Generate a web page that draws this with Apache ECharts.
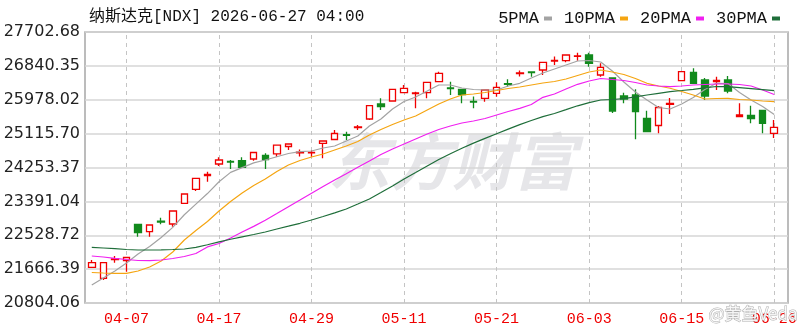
<!DOCTYPE html>
<html><head><meta charset="utf-8">
<script src="https://cdn.jsdelivr.net/npm/echarts@6/dist/echarts.min.js"></script>
<style>html,body{margin:0;padding:0;background:#fff}#c{width:800px;height:332px}</style>
</head><body><div id="c"></div>
<script>
// ---- data ----
var dates = ['04-01','04-02','04-06','04-07','04-08','04-09','04-10','04-13','04-14','04-15',
 '04-16','04-17','04-20','04-21','04-22','04-23','04-24','04-27','04-28','04-29',
 '04-30','05-01','05-04','05-05','05-06','05-07','05-08','05-11','05-12','05-13',
 '05-14','05-15','05-18','05-19','05-20','05-21','05-22','05-26','05-27','05-28',
 '05-29','06-01','06-02','06-03','06-04','06-05','06-08','06-09','06-10','06-11',
 '06-12','06-15','06-16','06-17','06-18','06-22','06-23','06-24','06-25','06-26'];
var labelDates = ['04-07','04-17','04-29','05-11','05-21','06-03','06-15','06-26'];
// [open, close, low, high]
var ohlc = [
 [21713,21830,21713,21899],[21433,21830,21390,21830],[21912,21929,21830,22001],[21886,21962,21601,21962],
 [22808,22594,22492,22808],[22619,22790,22492,22790],[22886,22866,22808,22976],[22815,23146,22746,23146],
 [23342,23579,23342,23579],[23699,23979,23655,23979],[24050,24075,23892,24147],[24343,24444,24292,24513],
 [24411,24393,24215,24444],[24427,24259,24259,24513],[24470,24635,24427,24635],[24559,24452,24215,24615],
 [24602,24821,24528,24821],[24788,24852,24699,24859],[24628,24643,24533,24712],[24628,24640,24528,24686],
 [24870,24928,24488,24941],[24966,25119,24954,25208],[25088,25073,24954,25165],[25269,25284,25208,25335],
 [25488,25827,25463,25827],[25870,25801,25717,26015],[25946,26244,25946,26244],[26158,26270,26158,26354],
 [26135,26150,25760,26183],[26158,26422,26015,26422],[26438,26651,26438,26692],[26277,26262,26099,26438],
 [26239,26112,25888,26252],[25936,25921,25760,26061],[26015,26226,25928,26226],[26142,26295,26056,26422],
 [26387,26371,26310,26499],[26644,26659,26570,26723],[26685,26669,26565,26685],[26735,26931,26608,26931],
 [26965,26980,26863,27079],[26972,27117,26931,27117],[27084,27097,26972,27176],[27117,26906,26819,27176],
 [26608,26804,26565,26906],[26532,25692,25641,26550],[26074,25997,25888,26158],[26099,25679,24971,26244],
 [25506,25165,25165,25699],[25323,25781,25124,25819],[25862,25883,25615,26023],[26463,26692,26463,26692],
 [26677,26397,26397,26779],[26481,26074,25972,26532],[26438,26473,26226,26565],[26481,26201,26142,26583],
 [25552,25590,25539,25888],[25577,25501,25379,25827],[25704,25379,25124,25704],[25124,25277,25004,25463]
];
var ma5 = [21262,21440,21619,21822,22052,22240,22470,22730,23050,23320,
 23590,23890,24130,24250,24370,24444,24528,24610,24656,24673,
 24750,24801,24928,25055,25310,25488,25743,25934,26048,26201,
 26354,26354,26277,26239,26226,26226,26328,26397,26532,26659,
 26761,26863,26965,26977,26939,26710,26430,26175,25972,25781,
 25743,25870,26035,26239,26397,26392,26163,25972,25806,25603];
var ma10 = [21580,21568,21560,21560,21619,21721,21873,22102,22408,22650,
 22879,23146,23388,23604,23795,23961,24152,24317,24432,24521,
 24597,24699,24801,24915,25081,25221,25348,25463,25564,25717,
 25870,25997,26099,26124,26163,26213,26264,26303,26354,26405,
 26443,26506,26595,26685,26735,26685,26621,26519,26397,26328,
 26270,26188,26099,25997,26010,26015,25984,25972,25946,25928];
var ma20 = [22001,21975,21942,21912,21886,21881,21899,21937,21988,22064,
 22232,22319,22459,22612,22754,22912,23082,23256,23426,23599,
 23770,23935,24096,24259,24419,24584,24724,24852,24979,25106,
 25221,25310,25386,25437,25501,25590,25679,25760,25857,26040,
 26124,26252,26371,26455,26519,26494,26468,26417,26354,26328,
 26310,26328,26354,26366,26379,26379,26366,26328,26226,26112];
var ma30 = [22222,22204,22186,22166,22153,22153,22158,22166,22179,22222,
 22286,22360,22426,22489,22548,22612,22688,22759,22833,22917,
 23006,23100,23197,23324,23452,23617,23783,23961,24126,24292,
 24455,24603,24742,24874,24995,25112,25229,25346,25449,25548,
 25628,25725,25824,25903,25972,25984,26005,26053,26099,26142,
 26183,26213,26244,26280,26315,26313,26287,26262,26236,26208];
var yTickLabels = ['20804.06','21666.39','22528.72','23391.04','24253.37','25115.70','25978.02','26840.35','27702.68'];
var yMin = 20804.06, yMax = 27702.68;
var maNames = ['5PMA','10PMA','20PMA','30PMA'];
var maColors = ['#a3a3a3','#f5a511','#f020f0','#1f6e3a'];
var titleText = '纳斯达克[NDX] 2026-06-27 04:00';

// ---- chart ----
var chart = echarts.init(document.getElementById('c'), null, {renderer:'canvas'});
var mono = "'Liberation Mono','Noto Sans CJK SC',monospace";
var maData = [ma5, ma10, ma20, ma30];
var series = [{
  type:'candlestick', xAxisIndex:1, yAxisIndex:1, barWidth:7,
  data: ohlc,
  itemStyle:{color:'#ffffff', color0:'#118a1c', borderColor:'#f00000', borderColor0:'#118a1c', borderWidth:1.3},
  markLine:{silent:true, symbol:'none', label:{show:false}, z:1,
    lineStyle:{color:'#c4c4c4', type:[4,4], width:1},
    data: labelDates.map(function(d){return {xAxis:d};})}
}];
maNames.forEach(function(n,k){
  series.push({name:n, type:'line', xAxisIndex:1, yAxisIndex:1, data:maData[k],
    symbol:'none', color:maColors[k], lineStyle:{width:1.2, color:maColors[k]}, z:3});
});
chart.setOption({
  animation:false,
  title:{text:titleText, left:84, top:4, textStyle:{fontFamily:mono, fontSize:16, fontWeight:'normal', color:'#111'}},
  legend:{data:maNames, right:15, top:5, align:'right', icon:'rect', itemWidth:8, itemHeight:4, itemGap:12,
    textStyle:{fontFamily:mono, fontSize:17, color:'#111'}},
  graphic:[
    {type:'text', left:328, top:130, z:0, silent:true,
     style:{text:'东方财富', fontSize:62, fontWeight:'bold', fontStyle:'italic', fontFamily:"'Noto Sans CJK SC'", fill:'#e6e6e9'}},
    {type:'text', left:708, top:305, z:10, silent:true,
     style:{text:'@黄鱼Veda', fontSize:17, fontFamily:"'Noto Sans CJK SC'", fill:'rgba(255,255,255,0.85)', stroke:'#b0b0b0', lineWidth:1}}
  ],
  grid:[
    {left:85, top:32, width:703, height:271, show:true, borderColor:'#a6a6a6', borderWidth:1.5, backgroundColor:'transparent'},
    {left:86, top:32, width:694, height:271, show:false}
  ],
  xAxis:[
    {type:'value', gridIndex:0, min:0, max:1, show:false},
    {type:'category', gridIndex:1, data:dates, boundaryGap:true,
     axisLine:{show:false}, axisTick:{show:false}, splitLine:{show:false},
     axisLabel:{interval:function(i,v){return labelDates.indexOf(v)>=0;}, color:'#f00000', fontFamily:mono, fontSize:15, margin:9}}
  ],
  yAxis:[
    {type:'value', gridIndex:0, min:0, max:8, interval:1,
     axisLine:{show:false}, axisTick:{show:false},
     axisLabel:{formatter:function(v){return yTickLabels[v];}, color:'#222', fontFamily:"'DejaVu Sans'", fontSize:16, margin:5},
     splitLine:{lineStyle:{color:'#d6d6d6', width:1.5}}},
    {type:'value', gridIndex:1, min:yMin, max:yMax, show:false, splitLine:{show:false}}
  ],
  series: series
});
</script></body></html>
